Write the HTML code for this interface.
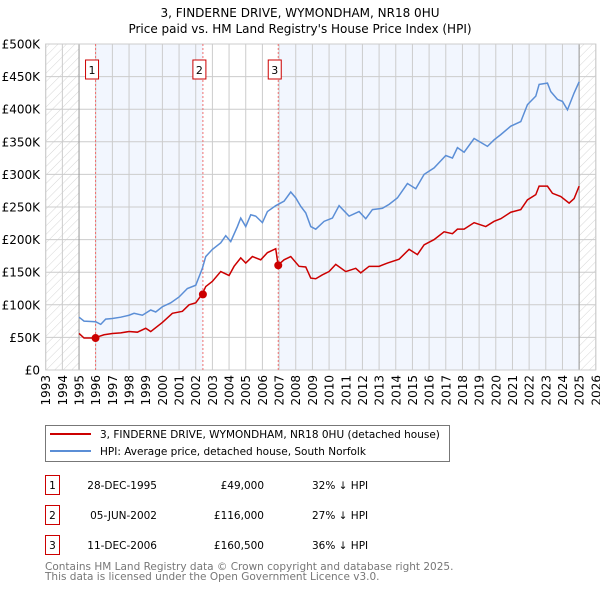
<!DOCTYPE html>
<html><head><meta charset="utf-8"><style>
body{margin:0;background:#fff;font-family:"DejaVu Sans","Liberation Sans",sans-serif;}
svg text{font-family:"DejaVu Sans","Liberation Sans",sans-serif;}
</style></head><body>
<svg id="c" width="600" height="590" xmlns="http://www.w3.org/2000/svg">
<defs><pattern id="hatch" width="6" height="6" patternUnits="userSpaceOnUse" patternTransform="rotate(45)"><line x1="0" y1="0" x2="0" y2="6" stroke="#ccc" stroke-width="0.8"/></pattern></defs>
<text x="300" y="17" text-anchor="middle" font-size="12">3, FINDERNE DRIVE, WYMONDHAM, NR18 0HU</text>
<text x="300" y="33" text-anchor="middle" font-size="12">Price paid vs. HM Land Registry's House Price Index (HPI)</text>
<g id="plot"></g>
<g>
<rect x="45.5" y="425.5" width="404" height="36" fill="#fff" stroke="#777"/>
<line x1="50" y1="434" x2="91" y2="434" stroke="#cc0000" stroke-width="2"/>
<text x="100" y="438" font-size="10.5">3, FINDERNE DRIVE, WYMONDHAM, NR18 0HU (detached house)</text>
<line x1="50" y1="451" x2="91" y2="451" stroke="#5b8ed6" stroke-width="2"/>
<text x="100" y="455" font-size="10.5">HPI: Average price, detached house, South Norfolk</text>
</g>
<g font-size="10.5">
<rect x="45.5" y="475.5" width="14" height="19" fill="#fff" stroke="#cc0000"/><text x="52.5" y="489" text-anchor="middle">1</text>
<text x="157" y="489" text-anchor="end">28-DEC-1995</text><text x="264" y="489" text-anchor="end">£49,000</text><text x="312" y="489">32% ↓ HPI</text>
<rect x="45.5" y="505.5" width="14" height="19" fill="#fff" stroke="#cc0000"/><text x="52.5" y="519" text-anchor="middle">2</text>
<text x="157" y="519" text-anchor="end">05-JUN-2002</text><text x="264" y="519" text-anchor="end">£116,000</text><text x="312" y="519">27% ↓ HPI</text>
<rect x="45.5" y="535.5" width="14" height="19" fill="#fff" stroke="#cc0000"/><text x="52.5" y="549" text-anchor="middle">3</text>
<text x="157" y="549" text-anchor="end">11-DEC-2006</text><text x="264" y="549" text-anchor="end">£160,500</text><text x="312" y="549">36% ↓ HPI</text>
</g>
<text x="45" y="570" font-size="10.5" fill="#777">Contains HM Land Registry data © Crown copyright and database right 2025.</text>
<text x="45" y="580" font-size="10.5" fill="#777">This data is licensed under the Open Government Licence v3.0.</text>
</svg>
<script>
const yTicks=[0,50000,100000,150000,200000,250000,300000,350000,400000,450000,500000];
const yTickLabels=["£0","£50K","£100K","£150K","£200K","£250K","£300K","£350K","£400K","£450K","£500K"];
const xTicks=[1993,1994,1995,1996,1997,1998,1999,2000,2001,2002,2003,2004,2005,2006,2007,2008,2009,2010,2011,2012,2013,2014,2015,2016,2017,2018,2019,2020,2021,2022,2023,2024,2025,2026];
const hpiYears=[1995.0,1995.3,1996.0,1996.3,1996.6,1997,1997.5,1998,1998.3,1998.8,1999.3,1999.6,2000,2000.5,2001,2001.5,2002,2002.4,2002.6,2003,2003.5,2003.8,2004.1,2004.5,2004.7,2005,2005.3,2005.6,2006,2006.3,2006.8,2007.3,2007.7,2008.0,2008.3,2008.6,2008.9,2009.2,2009.7,2010.2,2010.6,2011.2,2011.8,2012.2,2012.6,2013.2,2013.6,2014.1,2014.7,2015.2,2015.7,2016.3,2017.0,2017.4,2017.7,2018.1,2018.7,2019.5,2019.9,2020.3,2020.9,2021.5,2021.9,2022.4,2022.6,2023.1,2023.3,2023.7,2024.0,2024.3,2024.7,2025.0];
const hpiValues=[81,75,74,70,78,79,81,84,87,84,92,89,97,103,112,125,130,156,174,185,195,206,197,220,233,220,238,236,226,243,252,259,273,264,251,241,220,216,228,233,252,236,243,232,246,248,254,264,286,278,300,310,329,325,341,334,355,343,353,361,374,381,407,420,438,440,427,415,412,399,425,442];
const propYears=[1995.0,1995.3,1995.9,1996.5,1997,1997.5,1998,1998.5,1999,1999.3,2000,2000.6,2001.2,2001.6,2002,2002.4,2002.6,2003,2003.5,2004,2004.3,2004.7,2005,2005.4,2005.9,2006.3,2006.8,2006.94,2007.3,2007.7,2008.2,2008.6,2008.9,2009.2,2009.6,2010,2010.4,2011,2011.6,2011.9,2012.4,2013,2013.5,2014.2,2014.8,2015.3,2015.7,2016.3,2016.9,2017.4,2017.7,2018.1,2018.7,2019.4,2019.9,2020.3,2020.9,2021.5,2021.9,2022.4,2022.6,2023.1,2023.4,2023.9,2024.4,2024.7,2025.0];
const propValues=[56,49,49,54,56,57,59,58,64,59,73,87,90,100,103,117,128,136,151,145,159,172,164,174,169,180,186,161,169,174,159,158,141,140,146,151,162,151,156,149,159,159,164,170,185,177,192,200,212,209,216,216,226,220,228,232,242,246,261,269,282,282,271,266,256,263,282];
const saleLabels=["1","2","3"];
const saleYears=[1995.99,2002.43,2006.95];
const salePrices=[49000,116000,160500];

const X0=45.7,X1=595.8,Y0=370,Y1=44;
const xS=y=>X0+(y-1993)/33*(X1-X0);
const yS=v=>Y0-v/500000*(Y0-Y1);
const NS="http://www.w3.org/2000/svg";
const g=document.getElementById('plot');
function mk(t,a,p){const e=document.createElementNS(NS,t);for(const k in a)e.setAttribute(k,a[k]);(p||g).appendChild(e);return e;}
let e;
e=mk('rect',{x:X0,y:Y1,width:xS(1995)-X0,height:Y0-Y1,fill:'url(#hatch)'});


e=mk('rect',{x:xS(2025),y:Y1,width:X1-xS(2025),height:Y0-Y1,fill:'url(#hatch)'});


e=mk('rect',{x:xS(saleYears[0]),y:Y1,width:xS(saleYears[1])-xS(saleYears[0]),height:Y0-Y1,fill:'#f2f6fe'});


e=mk('rect',{x:xS(saleYears[2]),y:Y1,width:xS(2025)-xS(saleYears[2]),height:Y0-Y1,fill:'#f2f6fe'});


yTicks.forEach((v,i)=>{
 e=mk('line',{x1:X0,x2:X1,y1:yS(v),y2:yS(v),stroke:'#ccc','stroke-width':1});
 
 
 e=mk('text',{x:40,y:yS(v)+4.5,'text-anchor':'end','font-size':12});
 e.textContent=yTickLabels[i];
 
 
});
xTicks.forEach(yr=>{
 e=mk('line',{x1:xS(yr),x2:xS(yr),y1:Y1,y2:Y0,stroke:'#ccc','stroke-width':1});
 
 
 e=mk('text',{x:0,y:0,'text-anchor':'end','font-size':12,transform:`translate(${xS(yr)+4.5},375) rotate(-90)`});
 e.textContent=yr;
 
 
});
e=mk('line',{x1:xS(1995),x2:xS(1995),y1:Y1,y2:Y0,stroke:'#999'});


e=mk('line',{x1:xS(2025),x2:xS(2025),y1:Y1,y2:Y0,stroke:'#999'});


e=mk('rect',{x:X0,y:Y1,width:X1-X0,height:Y0-Y1,fill:'none',stroke:'#ccc'});


saleYears.forEach((yr,i)=>{
 e=mk('line',{x1:xS(yr),x2:xS(yr),y1:Y1,y2:Y0,stroke:'#f07070','stroke-dasharray':'2,2'});
 
 
 e=mk('rect',{x:xS(yr)-10,y:60,width:13,height:19,fill:'#fff',stroke:'#cc0000'});
 
 
 e=mk('text',{x:xS(yr)-3.5,y:74,'text-anchor':'middle','font-size':11});
 e.textContent=saleLabels[i];
 
 
});
e=mk('polyline',{points:hpiYears.map((y,i)=>xS(y)+','+yS(hpiValues[i]*1000)).join(' '),fill:'none',stroke:'#5b8ed6','stroke-width':1.5});


e=mk('polyline',{points:propYears.map((y,i)=>xS(y)+','+yS(propValues[i]*1000)).join(' '),fill:'none',stroke:'#cc0000','stroke-width':1.5});


saleYears.forEach((yr,i)=>{
 e=mk('circle',{cx:xS(yr),cy:yS(salePrices[i]),r:4,fill:'#cc0000'});
 
 
});
</script>
</body></html>
